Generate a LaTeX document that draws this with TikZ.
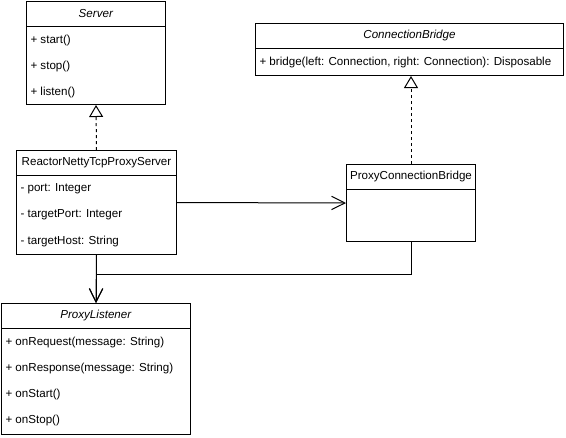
\documentclass[tikz,border=0pt]{standalone}
\usepackage{fontspec}
\setmainfont{Liberation Sans}
\usetikzlibrary{arrows.meta, positioning, calc}

\tikzset{
    classbox/.style={draw, line width=0.75pt, anchor=north west, inner sep=0pt},
    classname/.style={inner sep=0pt},
    member/.style={anchor=west, inner sep=0pt},
    realizes/.style={dash pattern=on 2.25pt off 2.25pt,
        -{Triangle[open, length=9pt, width=10.5pt, fill=white]}},
    uses/.style={-{Straight Barb[length=10pt, width=10pt]}}
}

\begin{document}
\begin{tikzpicture}[x=0.75pt, y=-0.75pt, line width=0.75pt,
    font=\fontsize{8.7}{10}\selectfont]
    \useasboundingbox (0,0) rectangle (566,437);

    % classes
    \node[classbox, minimum width=104.25pt, minimum height=77.25pt] (server) at (26,1) {};
    \node[classbox, minimum width=120pt, minimum height=78pt] (reactor) at (16,150) {};
    \node[classbox, minimum width=96.75pt, minimum height=57.75pt] (bridgeimpl) at (346,164) {};
    \node[classbox, minimum width=231pt, minimum height=39pt] (connbridge) at (255,23) {};
    \node[classbox, minimum width=141.75pt, minimum height=98.25pt] (listener) at (1,303) {};

    % header lines
    \foreach \c in {server, reactor, bridgeimpl, connbridge, listener}
        \draw ($(\c.north west)+(0,25)$) -- ($(\c.north east)+(0,25)$);

    % class names
    \node[classname] (server-name) at ($(server.north)+(0,12.5)$) {\textit{Server}};
    \node[classname] (reactor-name) at ($(reactor.north)+(0,12.5)$) {ReactorNettyTcpProxyServer};
    \node[classname] (bridgeimpl-name) at ($(bridgeimpl.north)+(0,12.5)$) {ProxyConnectionBridge};
    \node[classname] (connbridge-name) at ($(connbridge.north)+(0,12.5)$) {\textit{ConnectionBridge}};
    \node[classname] (listener-name) at ($(listener.north)+(0,12.5)$) {\textit{ProxyListener}};

    % members
    \foreach \m [count=\i] in {{start()}, {stop()}, {listen()}}
        \node[member] (server-m\i) at ($(server.north west)+(4,13+26*\i)$) {+ \m};
    \foreach \m [count=\i] in {{port: Integer}, {targetPort: Integer}, {targetHost: String}}
        \node[member] (reactor-m\i) at ($(reactor.north west)+(4,13+26*\i)$) {- \m};
    \node[member] (connbridge-m1) at ($(connbridge.north west)+(4,39)$)
        {+ bridge(left: Connection, right: Connection): Disposable};
    \foreach \m [count=\i] in {{onRequest(message: String)}, {onResponse(message: String)},
            {onStart()}, {onStop()}}
        \node[member] (listener-m\i) at ($(listener.north west)+(4,13+26*\i)$) {+ \m};

    % relations
    \draw[realizes] (reactor.north) -- (server.south);
    \draw[realizes] (bridgeimpl.north) -- (bridgeimpl.north |- connbridge.south);
    \draw[uses] (reactor.east) -- (bridgeimpl.west);
    \draw[uses] (reactor.south) -- (listener.north);
    \draw[uses] (bridgeimpl.south) -- ++(0,32) -| (listener.north);
\end{tikzpicture}
\end{document}
